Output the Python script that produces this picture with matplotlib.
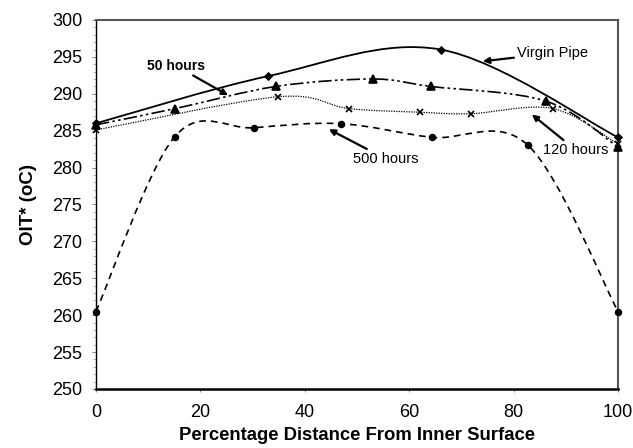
import matplotlib
matplotlib.use('Agg')
import matplotlib.pyplot as plt
from matplotlib.path import Path
from matplotlib.patches import PathPatch
from matplotlib.ticker import MultipleLocator

plt.rcParams['font.family'] = ['Liberation Sans', 'DejaVu Sans']

# data
virgin_x = [0, 33, 66, 100]
virgin_y = [286.0, 292.4, 296.0, 284.1]
h50_x = [0, 15.2, 34.5, 53, 64.1, 86.2, 100]
h50_y = [285.8, 288.0, 291.0, 292.0, 291.0, 289.0, 282.8]
h120_x = [0, 34.9, 48.4, 62.1, 71.8, 87.5, 100]
h120_y = [285.1, 289.6, 288.0, 287.5, 287.3, 288.0, 283.2]
h500_x = [0, 15.1, 30.3, 46.9, 64.3, 82.8, 100]
h500_y = [260.5, 284.2, 285.4, 285.95, 284.1, 283.0, 260.5]


def smooth_path(xs, ys):
    # Excel style smoothed line: cubic bezier through the points
    pts = list(zip(xs, ys))
    n = len(pts)
    verts = [pts[0]]
    codes = [Path.MOVETO]
    for i in range(n - 1):
        p0 = pts[i - 1] if i > 0 else pts[i]
        p1 = pts[i]
        p2 = pts[i + 1]
        p3 = pts[i + 2] if i + 2 < n else pts[i + 1]
        c1 = (p1[0] + (p2[0] - p0[0]) / 6, p1[1] + (p2[1] - p0[1]) / 6)
        c2 = (p2[0] - (p3[0] - p1[0]) / 6, p2[1] - (p3[1] - p1[1]) / 6)
        verts += [c1, c2, p2]
        codes += [Path.CURVE4] * 3
    return Path(verts, codes)


fig = plt.figure(figsize=(6.33, 4.48), dpi=100)
ax = fig.add_axes([0.1517, 0.1317, 0.8246, 0.8237])

series = [
    (virgin_x, virgin_y, '-', 'D', 3.5, 1.3),
    (h50_x, h50_y, (0, (8, 2, 1.5, 2, 1.5, 2)), '^', 5.5, 1.2),
    (h120_x, h120_y, (0, (1, 1)), 'x', 4.5, 0.9),
    (h500_x, h500_y, (0, (4, 3)), 'o', 4.2, 1.2),
]
for xs, ys, ls, mk, ms, lw in series:
    ax.add_patch(PathPatch(smooth_path(xs, ys), fill=False, edgecolor='black',
                           linestyle=ls, linewidth=lw, clip_on=False))
    ax.plot(xs, ys, linestyle='none', marker=mk, markersize=ms, color='black',
            markeredgewidth=1.2, clip_on=False, zorder=3)

ax.set_xlim(0, 100)
ax.set_ylim(250, 300)
ax.xaxis.set_major_locator(MultipleLocator(20))
ax.yaxis.set_major_locator(MultipleLocator(5))
ax.yaxis.set_minor_locator(MultipleLocator(1))
ax.tick_params(axis='both', labelsize=13, direction='out', length=3, width=0.6,
               color='#777777')
ax.tick_params(axis='y', pad=7)
ax.tick_params(axis='y', which='minor', length=2, width=0.5, color='#999999')
ax.tick_params(axis='x', length=2, pad=9)

for s in ['top', 'right']:
    ax.spines[s].set_color('#555555')
    ax.spines[s].set_linewidth(1.5)
ax.spines['left'].set_linewidth(1.0)
ax.spines['bottom'].set_linewidth(1.8)

ax.set_xlabel('Percentage Distance From Inner Surface', fontsize=13.3,
              fontweight='bold', labelpad=4)
ax.set_ylabel('OIT* (oC)', fontsize=13.5, fontweight='bold', labelpad=11)

arrow = dict(arrowstyle='-|>', color='black', lw=1.6, mutation_scale=9,
             shrinkA=0, shrinkB=0)
ax.annotate('50 hours', xy=(25.3, 289.8), xytext=(15.3, 293.8), fontsize=10,
            fontweight='bold', ha='center', va='center', arrowprops=arrow)
ax.annotate('Virgin Pipe', xy=(74.1, 294.4), xytext=(80.6, 295.5), fontsize=10.5,
            ha='left', va='center', arrowprops=arrow)
ax.annotate('120 hours', xy=(83.5, 287.2), xytext=(85.6, 282.4), fontsize=10.5,
            ha='left', va='center', arrowprops=arrow)
ax.annotate('500 hours', xy=(44.6, 285.2), xytext=(49.2, 281.2), fontsize=10.5,
            ha='left', va='center', arrowprops=arrow)

fig.savefig('out.png', dpi=100, facecolor='white')
